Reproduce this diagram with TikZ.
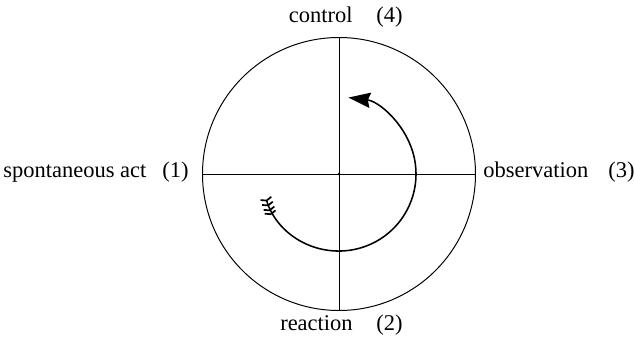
\documentclass[tikz,border=0pt]{standalone}
\usepackage{fontspec}
\setmainfont{Liberation Serif}
\usetikzlibrary{arrows.meta}
\begin{document}
\begin{tikzpicture}[x=0.025cm, y=0.025cm]
		% Styles
		\tikzstyle{tag} = [inner sep=0pt, font=\rmfamily\fontsize{16}{19}\selectfont]
		\tikzstyle{wheel} = [circle, draw, line width=0.7pt, minimum size=273*0.025cm, inner sep=0pt]
		\tikzstyle{axis} = [line width=0.7pt]
		\tikzstyle{cycle} = [line width=1.1pt, {Straight Barb[reversed,length=1.6pt,width=8pt,sep=0.8pt,line width=1.2pt]Straight Barb[reversed,length=1.6pt,width=8pt,sep=0.8pt,line width=1.2pt]Straight Barb[reversed,length=1.6pt,width=8pt,sep=0.8pt,line width=1.2pt]Straight Barb[reversed,length=1.6pt,width=8pt,line width=1.2pt]}-{Stealth[length=5.5mm,width=3.8mm,inset=0.6mm]}]
		\useasboundingbox (-339,-164) rectangle (295,174);
		
		% Nodes
		\node[wheel] (circ) at (0,0) {};
		\coordinate (mid) at (0,0);
		\node[tag, anchor=base west] (spont) at (-336,-3) {spontaneous act};
		\node[tag, anchor=base west] (one) at (-177,-3) {(1)};
		\node[tag, anchor=base west] (obs) at (144,-3) {observation};
		\node[tag, anchor=base west] (three) at (269,-3) {(3)};
		\node[tag, anchor=base east] (ctrl) at (14,152) {control};
		\node[tag, anchor=base west] (four) at (37,152) {(4)};
		\node[tag, anchor=base east] (react) at (14,-156) {reaction};
		\node[tag, anchor=base west] (two) at (37,-156) {(2)};
		
		% Lines
		\draw[axis] (circ.north) -- (circ.south);
		\draw[axis] (circ.west) -- (circ.east);
		\fill (mid) circle (1.3);
		
		% Arrows
		\draw[cycle] (mid) ++(197:77) arc[start angle=197, end angle=443, radius=77];
	\end{tikzpicture}
\end{document}
